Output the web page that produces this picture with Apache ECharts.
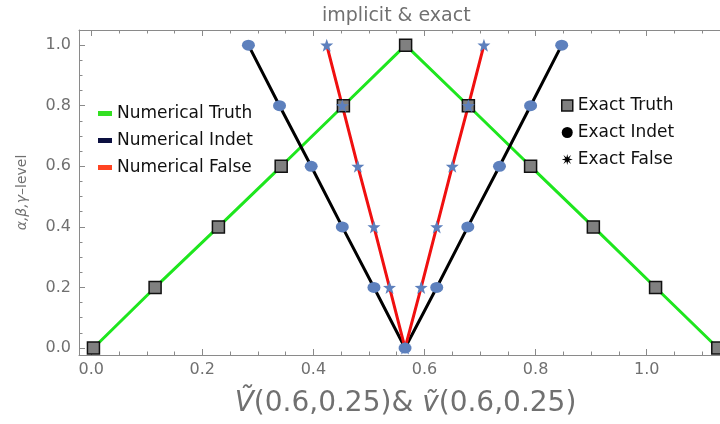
<!DOCTYPE html>
<html><head><meta charset="utf-8">
<script src="https://cdn.jsdelivr.net/npm/echarts@6/dist/echarts.min.js"></script>
<style>html,body{margin:0;padding:0;background:#fff}#c{width:720px;height:424px}</style>
</head><body><div id="c"></div>
<script>
// ---- data ----
const levelsUpDown = [0, 0.2, 0.4, 0.6, 0.8, 1.0, 0.8, 0.6, 0.4, 0.2, 0];
const levelsDownUp = [1.0, 0.8, 0.6, 0.4, 0.2, 0, 0.2, 0.4, 0.6, 0.8, 1.0];
const truthX = [0.004, 0.115, 0.229, 0.342, 0.454, 0.566, 0.679, 0.791, 0.904, 1.016, 1.128];
const indetX = [0.283, 0.339, 0.396, 0.452, 0.509, 0.565, 0.622, 0.678, 0.735, 0.791, 0.847];
const falseX = [0.424, 0.452, 0.480, 0.509, 0.537, 0.565, 0.594, 0.622, 0.650, 0.679, 0.707];
const xMajorTicks = [0, 0.2, 0.4, 0.6, 0.8, 1.0];
const xMinorTicks = [0.05, 0.1, 0.15, 0.25, 0.3, 0.35, 0.45, 0.5, 0.55, 0.65, 0.7, 0.75, 0.85, 0.9, 0.95, 1.05, 1.1];
const yMajorTicks = [0, 0.2, 0.4, 0.6, 0.8, 1.0];
const yMinorTicks = [0.05, 0.1, 0.15, 0.25, 0.3, 0.35, 0.45, 0.5, 0.55, 0.65, 0.7, 0.75, 0.85, 0.9, 0.95];
const titleText = 'implicit & exact';
const xName = '{i|\u1E7C}(0.6,0.25)& {i|\u1E7D}(0.6,0.25)';
const yName = '{i|\u03B1,\u03B2,\u03B3}\u2013level';
const lineNames = ['Numerical Truth', 'Numerical Indet', 'Numerical False'];
const exactNames = ['Exact Truth', 'Exact Indet', 'Exact False'];

const pairs = (xs, ys) => xs.map((x, i) => [x, ys[i]]);
const FONT = 'DejaVu Sans';
const AX = '#8a8a8a';
const LBL = '#707070';
const X_MIN = -0.022, X_MAX = 1.132, Y_MIN = -0.023, Y_MAX = 1.05;
const STAR5 = 'path://M10,0 L12.35,6.76 L19.51,6.91 L13.8,11.24 L15.88,18.09 L10,14 L4.12,18.09 L6.2,11.24 L0.49,6.91 L7.65,6.76 Z';
const STAR6 = 'path://M0,10 L6.5,8 L3,2 L8.5,6.3 L10,0 L11.5,6.3 L17,2 L13.5,8 L20,10 L13.5,12 L17,18 L11.5,13.7 L10,20 L8.5,13.7 L3,18 L6.5,12 Z';

function xAxisCfg(pos, ticks, len, main, showLine) {
  return {
    type: 'value', min: X_MIN, max: X_MAX, position: pos,
    axisLine: { show: showLine, onZero: false, lineStyle: { color: AX, width: 1 } },
    axisTick: { show: true, inside: true, length: len, customValues: ticks, lineStyle: { color: AX } },
    axisLabel: main ? { show: true, customValues: ticks, formatter: v => v.toFixed(1), color: LBL, fontSize: 16, fontFamily: FONT, margin: 7 } : { show: false },
    splitLine: { show: false }, minorTick: { show: false }
  };
}
function yAxisCfg(ticks, len, main) {
  return {
    type: 'value', min: Y_MIN, max: Y_MAX, position: 'left',
    axisLine: { show: main, onZero: false, lineStyle: { color: AX, width: 1 } },
    axisTick: { show: true, inside: true, length: len, customValues: ticks, lineStyle: { color: AX } },
    axisLabel: main ? { show: true, customValues: ticks, formatter: v => v.toFixed(1), color: LBL, fontSize: 16, fontFamily: FONT, margin: 8, padding: [3, 0, 0, 0] } : { show: false },
    splitLine: { show: false }, minorTick: { show: false }
  };
}

const xMain = xAxisCfg('bottom', xMajorTicks, 6, true, true);
xMain.name = xName;
xMain.nameLocation = 'middle';
xMain.nameGap = 35;
xMain.nameTextStyle = { color: LBL, fontSize: 28, fontFamily: FONT, padding: [0, 0, 0, 12], rich: { i: { fontStyle: 'italic', fontSize: 28, color: LBL, fontFamily: FONT } } };
const yMain = yAxisCfg(yMajorTicks, 6, true);
yMain.name = yName;
yMain.nameLocation = 'middle';
yMain.nameGap = 50;
yMain.nameTextStyle = { color: LBL, fontSize: 14, fontFamily: FONT, rich: { i: { fontStyle: 'italic', fontSize: 14, color: LBL, fontFamily: FONT } } };

const option = {
  animation: false,
  backgroundColor: '#fff',
  title: { text: titleText, left: 322, top: 7, padding: 0,
    textStyle: { color: LBL, fontSize: 19, fontWeight: 'normal', fontFamily: FONT } },
  grid: { left: 79, right: 0, top: 30, bottom: 69, outerBoundsMode: 'none', containLabel: false },
  xAxis: [
    xMain,
    xAxisCfg('bottom', xMinorTicks, 3.5, false, false),
    xAxisCfg('top', xMajorTicks, 6, false, true),
    xAxisCfg('top', xMinorTicks, 3.5, false, false)
  ],
  yAxis: [ yMain, yAxisCfg(yMinorTicks, 3.5, false) ],
  legend: [
    { orient: 'vertical', left: 98, top: 105, padding: 0, itemWidth: 14, itemHeight: 5, itemGap: 10,
      textStyle: { color: '#111', fontSize: 17, fontFamily: FONT },
      data: [
        { name: lineNames[0], icon: 'rect', itemStyle: { color: '#33e022' } },
        { name: lineNames[1], icon: 'rect', itemStyle: { color: '#0c1040' } },
        { name: lineNames[2], icon: 'rect', itemStyle: { color: '#ff4422' } }
      ] },
    { orient: 'vertical', left: 561, top: 97, padding: 0, itemWidth: 11, itemHeight: 11, itemGap: 10,
      textStyle: { color: '#111', fontSize: 17, fontFamily: FONT },
      data: [
        { name: exactNames[0], icon: 'rect', itemStyle: { color: '#808080', borderColor: '#111', borderWidth: 1.5 } },
        { name: exactNames[1], icon: 'circle', itemStyle: { color: '#000' } },
        { name: exactNames[2], icon: STAR6, itemStyle: { color: '#000' } }
      ] }
  ],
  series: [
    { name: lineNames[0], type: 'line', data: pairs(truthX, levelsUpDown), showSymbol: false, symbol: 'none',
      lineStyle: { color: '#1ee61e', width: 3 }, itemStyle: { color: '#1ee61e' }, z: 2 },
    { name: lineNames[1], type: 'line', data: pairs(indetX, levelsDownUp), showSymbol: false, symbol: 'none',
      lineStyle: { color: '#000', width: 3 }, itemStyle: { color: '#000' }, z: 3 },
    { name: lineNames[2], type: 'line', data: pairs(falseX, levelsDownUp), showSymbol: false, symbol: 'none',
      lineStyle: { color: '#f01010', width: 3 }, itemStyle: { color: '#f01010' }, z: 4 },
    { name: exactNames[0], type: 'scatter', data: pairs(truthX, levelsUpDown), symbol: 'rect', symbolSize: 12,
      itemStyle: { color: '#808080', borderColor: '#111', borderWidth: 1.5, opacity: 1 }, z: 5 },
    { name: exactNames[1], type: 'scatter', data: pairs(indetX, levelsDownUp), symbol: 'circle', symbolSize: [13, 11],
      itemStyle: { color: '#5d80bd', opacity: 1 }, z: 6 },
    { name: exactNames[2], type: 'scatter', data: pairs(falseX, levelsDownUp), symbol: STAR5, symbolSize: 13,
      itemStyle: { color: '#5d80bd', opacity: 1 }, z: 7 }
  ]
};
const chart = echarts.init(document.getElementById('c'), null, { renderer: 'canvas' });
chart.setOption(option);
</script>
</body></html>
